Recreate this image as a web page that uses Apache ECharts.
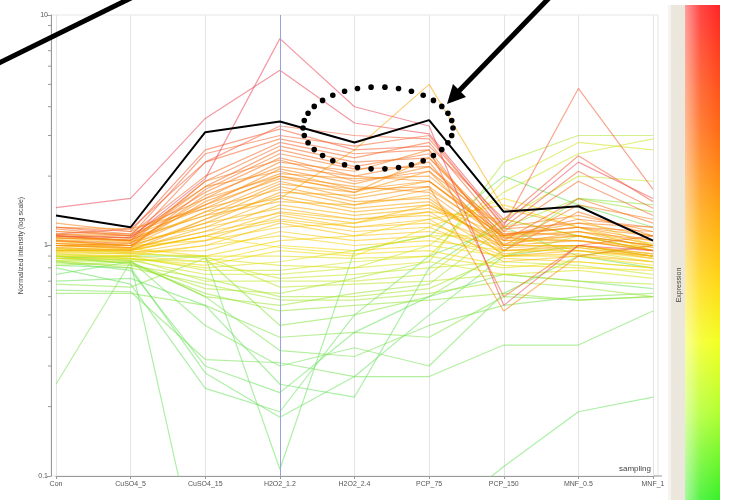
<!DOCTYPE html>
<html>
<head>
<meta charset="utf-8">
<script src="https://cdn.jsdelivr.net/npm/echarts@6/dist/echarts.min.js"></script>
<style>
html,body{margin:0;padding:0;background:#fff;}
#chart{width:729px;height:501px;}
</style>
</head>
<body>
<div id="chart"></div>
<script>
var categories = ['Con','CuSO4_5','CuSO4_15','H2O2_1.2','H2O2_2.4','PCP_75','PCP_150','MNF_0.5','MNF_1'];
var minorTickValues = [0.2,0.3,0.4,0.5,0.6,0.7,0.8,0.9,2,3,4,5,6,7,8,9];
var selectedCondition = 'H2O2_1.2';

var highlightProfile = [1.35, 1.2, 3.1, 3.45, 2.8, 3.5, 1.4, 1.48, 1.05];

var redProfiles = [
  [1.1, 1.08, 1.95, 7.9, 4.0, 3.3, 0.55, 1.0, 0.95],
  [1.46, 1.6, 3.56, 5.76, 3.4, 3.05, 1.25, 2.3, 1.6],
  [1.12, 1.18, 2.3, 3.3, 3.0, 2.9, 1.22, 4.8, 1.75],
  [1.2, 1.15, 2.6, 3.2, 2.6, 2.7, 1.3, 2.45, 1.55]
];

var orangeProfiles = [
  [1.15, 1.1, 2.5, 3.0, 2.7, 3.0, 1.2, 2.1, 1.45],
  [1.1, 1.05, 2.3, 2.9, 2.5, 2.6, 0.6, 1.0, 1.1],
  [1.2, 1.12, 2.0, 2.8, 2.4, 2.8, 1.15, 1.9, 1.35],
  [1.05, 1.02, 1.9, 2.7, 2.3, 2.4, 1.1, 1.3, 1.2],
  [1.18, 1.1, 1.8, 2.6, 2.2, 2.5, 1.05, 1.6, 1.25],
  [1.0, 0.98, 1.75, 2.5, 2.15, 2.2, 1.12, 1.2, 1.15],
  [1.12, 1.08, 1.7, 2.4, 2.0, 2.3, 0.95, 1.4, 1.1],
  [1.08, 1.05, 1.9, 2.35, 1.9, 2.1, 1.18, 1.25, 1.2],
  [1.25, 1.15, 1.6, 2.3, 2.1, 2.6, 1.0, 1.5, 1.3],
  [1.02, 1.0, 1.65, 2.2, 2.0, 1.9, 1.08, 1.15, 1.05],
  [1.15, 1.12, 1.5, 2.15, 1.85, 2.2, 1.2, 1.35, 1.15],
  [1.1, 1.05, 1.8, 2.1, 1.75, 1.8, 0.52, 0.9, 1.0],
  [1.05, 1.0, 1.55, 2.05, 1.95, 2.0, 1.1, 1.2, 1.1],
  [1.2, 1.18, 1.45, 2.0, 1.7, 2.4, 1.15, 1.1, 1.0],
  [1.0, 1.02, 1.6, 2.0, 1.8, 1.7, 1.0, 1.05, 0.95]
];

var yellowOrangeProfiles = [
  [1.1, 1.05, 1.5, 1.95, 1.75, 1.9, 1.12, 1.2, 1.05],
  [1.05, 1.0, 1.4, 1.9, 1.6, 1.8, 1.05, 1.1, 1.0],
  [1.08, 1.06, 1.35, 1.85, 1.7, 2.1, 1.0, 1.15, 0.98],
  [0.98, 0.95, 1.3, 1.8, 1.55, 1.6, 0.95, 1.0, 0.92],
  [1.12, 1.1, 1.45, 1.75, 1.5, 1.75, 1.1, 1.25, 1.1],
  [1.0, 1.0, 1.25, 1.7, 1.65, 1.9, 1.08, 1.05, 0.95],
  [1.02, 0.98, 1.3, 1.65, 1.45, 1.55, 0.98, 1.0, 0.9],
  [1.06, 1.03, 1.4, 1.6, 2.6, 5.0, 1.45, 1.2, 1.0],
  [0.95, 0.96, 1.2, 1.6, 1.4, 1.5, 1.02, 1.1, 0.95],
  [1.1, 1.08, 1.35, 1.55, 1.5, 1.65, 0.9, 0.95, 0.9],
  [1.0, 0.97, 1.15, 1.5, 1.35, 1.45, 1.05, 1.05, 0.98],
  [1.04, 1.0, 1.25, 1.45, 1.3, 1.4, 0.92, 0.98, 0.88],
  [0.97, 0.95, 1.1, 1.4, 1.3, 1.35, 1.0, 1.0, 0.92],
  [1.08, 1.04, 1.2, 1.38, 1.25, 1.5, 1.1, 1.15, 1.02],
  [0.95, 0.93, 1.05, 1.35, 1.2, 1.3, 0.85, 0.9, 0.85],
  [1.0, 0.98, 1.15, 1.3, 1.2, 1.25, 0.95, 0.98, 0.9]
];

var yellowProfiles = [
  [0.98, 0.96, 1.1, 1.28, 1.15, 1.2, 0.9, 0.92, 0.85],
  [0.93, 0.92, 1.0, 1.25, 1.1, 1.15, 1.0, 1.0, 0.9],
  [1.02, 1.0, 1.05, 1.2, 1.25, 1.4, 1.3, 1.1, 0.95],
  [0.96, 0.94, 0.95, 1.15, 1.05, 1.1, 0.88, 0.85, 0.8],
  [0.9, 0.9, 1.0, 1.1, 1.0, 1.05, 0.95, 0.95, 0.88],
  [1.0, 0.97, 0.9, 1.05, 1.1, 1.3, 1.5, 1.2, 0.95],
  [0.92, 0.9, 0.85, 1.0, 0.95, 1.0, 0.9, 0.9, 0.82],
  [0.95, 0.95, 1.1, 0.98, 0.92, 0.95, 0.82, 0.8, 0.78],
  [0.88, 0.88, 0.82, 0.95, 0.9, 1.2, 1.6, 1.3, 1.0],
  [0.94, 0.92, 0.9, 0.9, 0.88, 0.9, 0.8, 0.85, 0.8],
  [0.9, 0.88, 0.8, 0.85, 0.95, 1.1, 1.1, 0.95, 0.85],
  [0.97, 0.93, 0.88, 0.82, 0.8, 0.85, 0.75, 0.78, 0.72]
];

var yellowGreenProfiles = [
  [0.9, 0.9, 0.78, 0.78, 0.85, 0.9, 1.9, 2.8, 2.6],
  [0.88, 0.86, 0.75, 0.75, 0.8, 1.0, 1.7, 2.5, 2.9],
  [0.86, 0.87, 0.85, 0.72, 0.75, 0.8, 0.85, 0.82, 0.75],
  [0.92, 0.88, 0.7, 0.7, 0.7, 0.75, 1.3, 2.0, 1.9],
  [0.85, 0.85, 0.9, 0.66, 0.68, 0.7, 0.75, 0.7, 0.68],
  [0.88, 0.84, 0.65, 0.62, 0.72, 0.85, 2.3, 3.0, 3.0],
  [0.84, 0.82, 0.72, 0.6, 0.6, 0.65, 0.9, 1.1, 1.0],
  [0.86, 0.8, 0.68, 0.58, 0.58, 0.62, 0.7, 0.66, 0.6],
  [0.82, 0.85, 0.6, 0.55, 0.62, 0.68, 1.2, 1.6, 1.4],
  [0.9, 0.83, 0.62, 0.52, 0.55, 0.58, 0.62, 0.58, 0.6]
];

var greenProfiles = [
  [0.68, 0.66, 0.88, 0.45, 0.5, 0.6, 0.95, 1.6, 1.5],
  [0.62, 0.62, 0.55, 0.4, 0.42, 0.4, 0.6, 0.58, 0.6],
  [0.64, 0.63, 0.32, 0.31, 0.27, 0.27, 0.37, 0.37, 0.52],
  [0.8, 0.68, 0.24, 0.19, 0.5, 0.9, 1.2, 0.9, 0.8],
  [0.85, 0.78, 0.3, 0.23, 0.42, 0.6, 0.75, 0.7, 0.65],
  [0.88, 0.9, 0.9, 0.107, 0.95, 1.1, 2.0, 1.5, 1.2],
  [0.82, 0.8, 0.28, 0.18, 0.27, 0.5, 0.9, 1.0, 0.9],
  [0.25, 0.85, 0.6, 0.35, 0.33, 0.45, 0.55, 0.6, 0.62],
  [0.75, 0.85, 0.03, 0.04, 0.05, 0.06, 0.11, 0.19, 0.22],
  [0.7, 0.72, 0.55, 0.25, 0.22, 0.8, 1.3, 1.1, 0.95],
  [0.9, 0.86, 0.45, 0.3, 0.36, 0.3, 0.62, 0.9, 1.0]
];

// colour scale (log10 of expression at the selected condition)
var colorStops = [
  [-0.6, [105, 225, 95]],
  [-0.3, [140, 228, 60]],
  [-0.12, [205, 230, 30]],
  [0.0, [245, 215, 0]],
  [0.15, [250, 180, 0]],
  [0.3, [250, 140, 10]],
  [0.45, [245, 100, 40]],
  [0.7, [235, 70, 90]]
];
function expressionColor(v) {
  var l = Math.log10(v);
  if (l <= colorStops[0][0]) return 'rgb(' + colorStops[0][1].join(',') + ')';
  for (var i = 1; i < colorStops.length; i++) {
    if (l <= colorStops[i][0]) {
      var a = colorStops[i - 1], b = colorStops[i];
      var t = (l - a[0]) / (b[0] - a[0]);
      var c = a[1].map(function (x, k) { return Math.round(x + (b[1][k] - x) * t); });
      return 'rgb(' + c.join(',') + ')';
    }
  }
  return 'rgb(' + colorStops[colorStops.length - 1][1].join(',') + ')';
}

var selIdx = categories.indexOf(selectedCondition);
var allGroups = [greenProfiles, yellowGreenProfiles, yellowProfiles, yellowOrangeProfiles, orangeProfiles, redProfiles];
var series = [];
allGroups.forEach(function (group) {
  group.forEach(function (p) {
    series.push({
      type: 'line', data: p, symbol: 'none', silent: true,
      lineStyle: { width: 1.2, color: expressionColor(p[selIdx]), opacity: 0.55 },
      z: 2
    });
  });
});
series.push({
  type: 'line', data: highlightProfile, symbol: 'none', silent: true,
  lineStyle: { width: 2, color: '#000' }, z: 5,
  markLine: {
    silent: true, symbol: 'none', label: { show: false },
    lineStyle: { color: '#95a3df', width: 1, type: 'solid', opacity: 1 },
    data: [{ xAxis: selectedCondition }]
  }
});

var chart = echarts.init(document.getElementById('chart'), null, { renderer: 'canvas' });

// decorative annotations
var ellipseDots = [];
for (var i = 0; i < 34; i++) {
  var ang = i / 34 * Math.PI * 2;
  ellipseDots.push({
    type: 'circle', shape: { cx: 378 + 75 * Math.cos(ang), cy: 128 + 41 * Math.sin(ang), r: 2.8 },
    style: { fill: '#000' }, z: 100
  });
}

var option = {
  animation: false,
  backgroundColor: '#fff',
  grid: { left: 56, top: 15, width: 597, height: 461, containLabel: false },
  xAxis: {
    type: 'category', data: categories, boundaryGap: false,
    name: 'sampling', nameLocation: 'end', nameGap: -2,
    nameTextStyle: { fontSize: 8, color: '#444', align: 'right', verticalAlign: 'bottom', padding: [0, 0, 3, 0], fontFamily: 'Arial, Liberation Sans' },
    axisLine: { lineStyle: { color: '#999', width: 1 } },
    axisTick: { show: true, length: 3, lineStyle: { color: '#999' } },
    axisLabel: { fontSize: 7, color: '#555', margin: 5, fontFamily: 'Arial, Liberation Sans', interval: 0 },
    splitLine: { show: true, lineStyle: { color: '#e3e3e3', width: 1 } }
  },
  yAxis: {
    type: 'log', logBase: 10, min: 0.1, max: 10, offset: 5,
    name: 'Normalized intensity (log scale)', nameLocation: 'middle', nameGap: 26,
    nameTextStyle: { fontSize: 7, color: '#444', fontFamily: 'Arial, Liberation Sans' },
    axisLine: { show: true, lineStyle: { color: '#999', width: 1 } },
    axisTick: { show: true, length: 4, lineStyle: { color: '#999' } },
    axisLabel: { fontSize: 7, color: '#555', margin: 3, fontFamily: 'Arial, Liberation Sans' },
    splitLine: { show: false }
  },
  series: series,
  graphic: [
    { type: 'rect', shape: { x: 51, y: 15, width: 607, height: 461 }, style: { fill: 'none', stroke: '#e6e6e6', lineWidth: 1 }, z: 0, silent: true },
    { type: 'line', shape: { x1: 653, y1: 476, x2: 662, y2: 476 }, style: { stroke: '#999', lineWidth: 1 }, silent: true },
    { type: 'rect', shape: { x: 668, y: 5, width: 17, height: 495 }, style: { fill: '#ebe7dc' }, silent: true },
    { type: 'rect', shape: { x: 668, y: 5, width: 3, height: 495 }, style: { fill: '#f6f4ee' }, silent: true },
    { type: 'rect', shape: { x: 685, y: 5, width: 35, height: 495 }, silent: true,
      style: { fill: new echarts.graphic.LinearGradient(0, 0, 0, 1, [
        { offset: 0, color: '#ff2424' },
        { offset: 0.25, color: '#ff6a14' },
        { offset: 0.42, color: '#ffa810' },
        { offset: 0.56, color: '#ffd814' },
        { offset: 0.68, color: '#f4ff20' },
        { offset: 0.82, color: '#b4ff30' },
        { offset: 1, color: '#38f028' }
      ]) } },
    { type: 'rect', shape: { x: 685, y: 5, width: 35, height: 495 }, silent: true,
      style: { fill: new echarts.graphic.LinearGradient(0, 0, 1, 0, [
        { offset: 0, color: 'rgba(255,255,255,0.55)' },
        { offset: 0.45, color: 'rgba(255,255,255,0.15)' },
        { offset: 1, color: 'rgba(255,255,255,0)' }
      ]) } },
    { type: 'text', x: 679, y: 285, rotation: Math.PI / 2, silent: true,
      style: { text: 'Expression', fontSize: 7, fill: '#444', align: 'center', verticalAlign: 'middle', fontFamily: 'Arial, Liberation Sans' } },
    { type: 'line', shape: { x1: -5, y1: 65, x2: 133, y2: -3 }, style: { stroke: '#000', lineWidth: 5 }, z: 100, silent: true },
    { type: 'line', shape: { x1: 550, y1: -3, x2: 457, y2: 93 }, style: { stroke: '#000', lineWidth: 5 }, z: 100, silent: true },
    { type: 'polygon', shape: { points: [[447, 104], [466, 97], [453, 84]] }, style: { fill: '#000' }, z: 100, silent: true }
  ].concat(ellipseDots)
};
chart.setOption(option);

// minor ticks on the log axis, positioned through the axis scale
var tickGraphics = [];
minorTickValues.forEach(function (v) {
  var py = chart.convertToPixel({ yAxisIndex: 0 }, v);
  tickGraphics.push({ type: 'line', shape: { x1: 48, y1: py, x2: 51, y2: py }, style: { stroke: '#999', lineWidth: 1 }, silent: true });
});
chart.setOption({ graphic: option.graphic.concat(tickGraphics) });
</script>
</body>
</html>
